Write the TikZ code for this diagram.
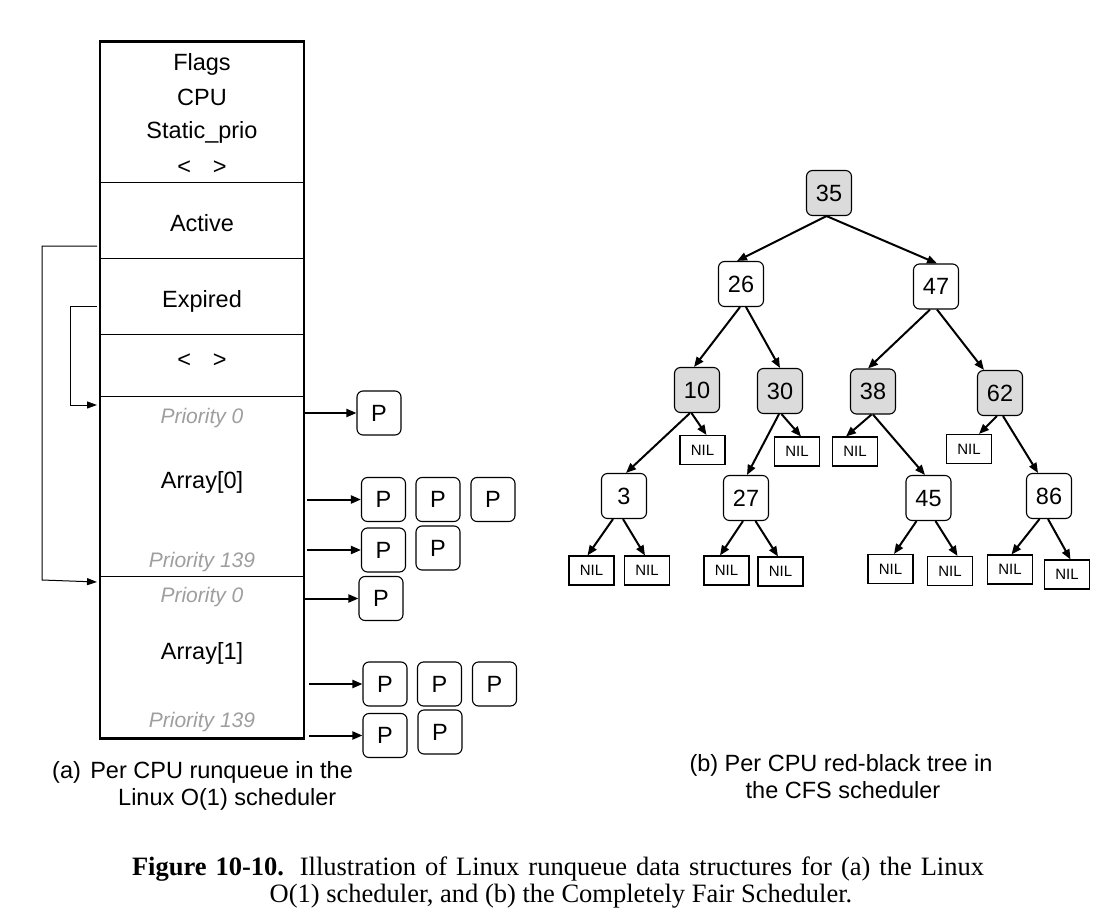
\documentclass[tikz,border=0pt]{standalone}
\usepackage{fontspec}
\usepackage{graphicx}
\setmainfont{Liberation Sans}
\newfontfamily\capserif{Liberation Serif}
\usetikzlibrary{arrows.meta,calc}
\definecolor{nodegray}{gray}{0.86}
\definecolor{prigray}{gray}{0.62}
\tikzset{
  lbl/.style={font=\fontsize{23.5}{28}\selectfont, inner sep=0pt, anchor=base},
  pri/.style={font=\fontsize{21}{25}\selectfont\itshape, text=prigray, inner sep=0pt, anchor=base},
  pbox/.style={draw, rounded corners=6pt, minimum width=44pt, minimum height=44pt, inner sep=0pt, line width=1.1pt, text height=16.8pt, text depth=0pt, font=\fontsize{23.5}{28}\selectfont},
  tnode/.style={draw, rounded corners=6pt, minimum width=45pt, minimum height=45pt, inner sep=0pt, line width=1.1pt, text height=16.8pt, text depth=0pt, font=\fontsize{23.5}{28}\selectfont},
  tshade/.style={tnode, fill=nodegray},
  nilbox/.style={draw, minimum width=45pt, minimum height=29pt, inner sep=0pt, line width=1.1pt, text height=10.7pt, text depth=0pt, font=\fontsize{15}{18}\selectfont},
  edge/.style={-{Triangle[length=10pt,width=8pt]}, line width=2pt},
  link/.style={-{Triangle[length=10pt,width=7pt]}, line width=1pt},
  divider/.style={line width=1pt}
}
\newcommand{\tedge}[4]{\draw[edge] ($(#1.south)+(#2,0)$) -- ($(#3.north)+(#4,0)$);}
\begin{document}
\begin{tikzpicture}[x=1pt,y=-1pt]
\useasboundingbox (0,0) rectangle (1112,924);

% ---------- (a) runqueue ----------
\node[draw, line width=2.6pt, minimum width=204pt, minimum height=697pt, inner sep=0pt] (rq) at (202,390) {};
\draw[divider] (100,182) -- (304,182);
\draw[divider] (100,258.5) -- (304,258.5);
\draw[divider] (100,334) -- (304,334);
\draw[divider] (100,396) -- (304,396);
\draw[divider] (100,576.5) -- (304,576.5);

\node[lbl] (flags) at (202,70.5) {Flags};
\node[lbl] (cpu) at (202,105) {CPU};
\node[lbl] (sprio) at (202,138.5) {Static\_prio};
\node[lbl] (lg1) at (202,174) {<\hspace{22pt}>};
\node[lbl] (active) at (202,231) {Active};
\node[lbl] (expired) at (202,307.5) {Expired};
\node[lbl] (lg2) at (202,367) {<\hspace{22pt}>};
\node[pri] (pa0) at (202,423.5) {Priority 0};
\node[lbl] (arr0) at (202,488.5) {Array[0]};
\node[pri] (pa139) at (202,567.5) {Priority 139};
\node[pri] (pb0) at (202,602.5) {Priority 0};
\node[lbl] (arr1) at (202,659) {Array[1]};
\node[pri] (pb139) at (202,727.5) {Priority 139};

% left links
\coordinate (actOut) at (97,246);
\coordinate (arr1In) at (97,582);
\coordinate (expOut) at (97,306);
\coordinate (arr0In) at (97,405);
\draw[link] (actOut) -- (42,246) -- (42,580) -- (arr1In);
\draw[link] (expOut) -- (70,306) -- (70,405) -- (arr0In);

% process boxes
\node[pbox] (p1) at (379,413) {P};
\node[pbox] (p2a) at (383.5,499.5) {P};
\node[pbox] (p2b) at (438,499.5) {P};
\node[pbox] (p2c) at (493,499.5) {P};
\node[pbox] (p3a) at (383.5,550) {P};
\node[pbox] (p3b) at (438,548) {P};
\node[pbox] (p4) at (381,598.5) {P};
\node[pbox] (p5a) at (385,684) {P};
\node[pbox] (p5b) at (439.5,684) {P};
\node[pbox] (p5c) at (494.5,684) {P};
\node[pbox] (p6a) at (385,735.5) {P};
\node[pbox] (p6b) at (440,732) {P};

\coordinate (s1) at (304,413);
\coordinate (s2) at (307,499.5);
\coordinate (s3) at (307,550);
\coordinate (s4) at (304,598.5);
\coordinate (s5) at (309,684);
\coordinate (s6) at (309,735.5);
\draw[edge] (s1) -- (p1.west);
\draw[edge] (s2) -- (p2a.west);
\draw[edge] (s3) -- (p3a.west);
\draw[edge] (s4) -- (p4.west);
\draw[edge] (s5) -- (p5a.west);
\draw[edge] (s6) -- (p6a.west);

\node[lbl, anchor=base west] (capa1) at (52,778) {(a)\hspace{0.4em}Per CPU runqueue in the};
\node[lbl, anchor=base west] (capa2) at (118,805) {Linux O(1) scheduler};

% ---------- (b) red-black tree ----------
\node[tshade] (n35) at (829,193) {35};
\node[tnode] (n26) at (741,284) {26};
\node[tnode] (n47) at (936,286.5) {47};
\node[tshade] (n10) at (697,390) {10};
\node[tshade] (n30) at (780,391) {30};
\node[tshade] (n38) at (873,391.5) {38};
\node[tshade] (n62) at (1000,393) {62};
\node[tnode] (n3) at (624,496) {3};
\node[tnode] (n27) at (746,498) {27};
\node[tnode] (n45) at (928.5,498) {45};
\node[tnode] (n86) at (1049,496) {86};

\node[nilbox] (nil10) at (702.5,450) {NIL};
\node[nilbox] (nil30) at (797,451.5) {NIL};
\node[nilbox] (nil38) at (855,451.5) {NIL};
\node[nilbox] (nil62) at (969,449) {NIL};
\node[nilbox] (nil3l) at (591.5,570.5) {NIL};
\node[nilbox] (nil3r) at (647,570.5) {NIL};
\node[nilbox] (nil27l) at (726.5,570.5) {NIL};
\node[nilbox] (nil27r) at (780.5,571.5) {NIL};
\node[nilbox] (nil45l) at (890.5,569) {NIL};
\node[nilbox] (nil45r) at (950,571) {NIL};
\node[nilbox] (nil86l) at (1010,569.5) {NIL};
\node[nilbox] (nil86r) at (1067,574.5) {NIL};

\tedge{n35}{-2.5}{n26}{-4}
\tedge{n35}{-2.5}{n47}{1}
\tedge{n26}{-1}{n10}{-3}
\tedge{n26}{5}{n30}{0}
\tedge{n47}{-6}{n38}{-5}
\tedge{n47}{1}{n62}{-16}
\tedge{n10}{-7}{n3}{2}
\tedge{n10}{-5.5}{nil10}{4}
\tedge{n30}{-1}{n27}{1}
\tedge{n30}{1.5}{nil30}{4}
\tedge{n38}{-1.5}{nil38}{-9}
\tedge{n38}{0}{n45}{-3.5}
\tedge{n62}{-3}{nil62}{10}
\tedge{n62}{3}{n86}{-11}
\tedge{n3}{-11}{nil3l}{-4}
\tedge{n3}{-1}{nil3r}{-2}
\tedge{n27}{-3}{nil27l}{-6.5}
\tedge{n27}{9.5}{nil27r}{-2.5}
\tedge{n45}{-12}{nil45l}{3.5}
\tedge{n45}{7}{nil45r}{7.5}
\tedge{n86}{-9.5}{nil86l}{1.5}
\tedge{n86}{-1}{nil86r}{3.5}

\node[lbl] (capb1) at (841,771.5) {(b) Per CPU red-black tree in};
\node[lbl] (capb2) at (843,798.5) {the CFS scheduler};

% ---------- figure caption ----------
\node[anchor=base, inner sep=0pt, font=\capserif\fontsize{26.5}{31}\selectfont] (fig1) at (558,875)
  {\makebox[852pt][s]{\textbf{Figure 10-10.} Illustration of Linux runqueue data structures for (a) the Linux}};
\node[anchor=base, inner sep=0pt, font=\capserif\fontsize{26.5}{31}\selectfont] (fig2) at (561,902)
  {O(1) scheduler, and (b) the Completely Fair Scheduler.};
\end{tikzpicture}
\end{document}
